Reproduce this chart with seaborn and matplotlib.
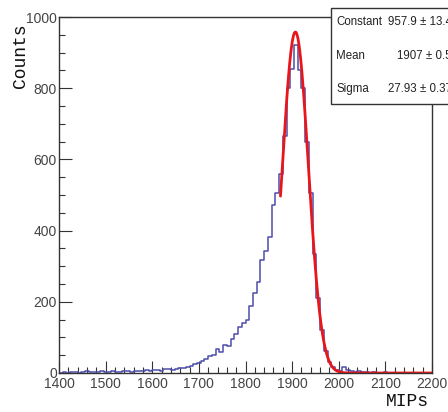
import numpy as np
import pandas as pd
import matplotlib
matplotlib.use("Agg")
import matplotlib.pyplot as plt
from matplotlib.patches import Rectangle
from matplotlib.ticker import MultipleLocator
import seaborn as sns

# ---------------- data ----------------
bin_start = 1400
bin_width = 8
counts = [0, 3, 0, 4, 2, 0, 3, 5, 2, 3, 4, 6, 2, 3, 5, 4, 3, 6, 5, 4, 7, 6, 5, 8, 7,
          8, 9, 7, 10, 11, 9, 12, 14, 13, 18, 21, 24,
          28, 33, 40, 48, 50, 68, 60, 78, 76, 95, 110, 128, 140, 150, 188, 225, 255,
          318, 344, 381, 473, 507, 560, 665, 800, 855, 922, 850, 800, 648, 505,
          335, 212, 122, 62, 30, 16, 8, 5, 18, 8, 6, 4, 5,
          3, 2, 1, 2, 0, 1, 2, 0, 1, 0, 1, 0, 0, 1, 0, 0, 0, 1, 0]
fit_constant = 957.9
fit_mean = 1907.0
fit_sigma = 27.93
fit_range = [1875, 2200]
stat_names = ["Constant", "Mean", "Sigma"]
stat_values = ["957.9 \u00b1 13.4", "1907 \u00b1 0.5", "27.93 \u00b1 0.37"]
x_ticks = [1400, 1500, 1600, 1700, 1800, 1900, 2000, 2100, 2200]
y_ticks = [0, 200, 400, 600, 800, 1000]
x_title = "MIPs"
y_title = "Counts"

bin_end = bin_start + bin_width * len(counts)
centers = bin_start + bin_width * (np.arange(len(counts)) + 0.5)
df = pd.DataFrame({"x": centers, "w": counts})

fx = np.linspace(fit_range[0], fit_range[1], 600)
fit_df = pd.DataFrame({"x": fx,
                       "y": fit_constant * np.exp(-0.5 * ((fx - fit_mean) / fit_sigma) ** 2)})

# ---------------- style ----------------
sns.set_style("ticks")
plt.rcParams["font.family"] = ["Liberation Sans", "DejaVu Sans"]

W, H = 448, 412
fig = plt.figure(figsize=(W / 100, H / 100), dpi=100)
ax = fig.add_axes([59 / W, 1 - 373 / H, (432 - 59) / W, (373 - 17) / H])

sns.histplot(data=df, x="x", weights="w", binwidth=bin_width,
             binrange=(bin_start, bin_end), element="step", fill=False,
             color="#4d4dac", linewidth=1.1, ax=ax)
sns.lineplot(data=fit_df, x="x", y="y", color="#e8161b", linewidth=2.0, ax=ax)

ax.set_xlim(1400, 2200)
ax.set_ylim(0, 1000)
ax.set_xticks(x_ticks)
ax.set_yticks(y_ticks)
ax.xaxis.set_minor_locator(MultipleLocator(20))
ax.yaxis.set_minor_locator(MultipleLocator(50))
ax.tick_params(which="both", direction="in", top=False, right=False,
               labelsize=10, labelcolor="#444444", color="#333333")
ax.tick_params(axis="x", which="major", length=9, width=0.8, pad=3)
ax.tick_params(axis="x", which="minor", length=4.5, width=0.8)
ax.tick_params(axis="y", which="major", length=9, width=0.8, pad=1.5)
ax.tick_params(axis="y", which="minor", length=4.5, width=0.8)
ax.set_xlabel("")
ax.set_ylabel("")
for s in ax.spines.values():
    s.set_visible(True)
    s.set_linewidth(1.0)
    s.set_color("#333333")

# axis titles (ROOT-like placement)
fig.text(21 / W, 1 - 23 / H, y_title, rotation=90, ha="center", va="top",
         fontsize=13, family=["Liberation Mono", "DejaVu Sans Mono"], color="#111111")
fig.text(429 / W, 1 - 393 / H, x_title, ha="right", va="top",
         fontsize=13, family=["Liberation Mono", "DejaVu Sans Mono"], color="#111111")

# stats box
fig.patches.append(Rectangle((331 / W, 1 - 104 / H), 140 / W, 96 / H,
                             transform=fig.transFigure, facecolor="white",
                             edgecolor="#333333", linewidth=1.0, zorder=10))
row_y = [22, 56, 89]
for name, val, yy in zip(stat_names, stat_values, row_y):
    fig.text(336 / W, 1 - yy / H, name, ha="left", va="center", fontsize=8.3,
             color="#222222", zorder=11)
    fig.text(452 / W, 1 - yy / H, val, ha="right", va="center", fontsize=8.3,
             color="#222222", zorder=11)

fig.savefig("out.png", dpi=100)
